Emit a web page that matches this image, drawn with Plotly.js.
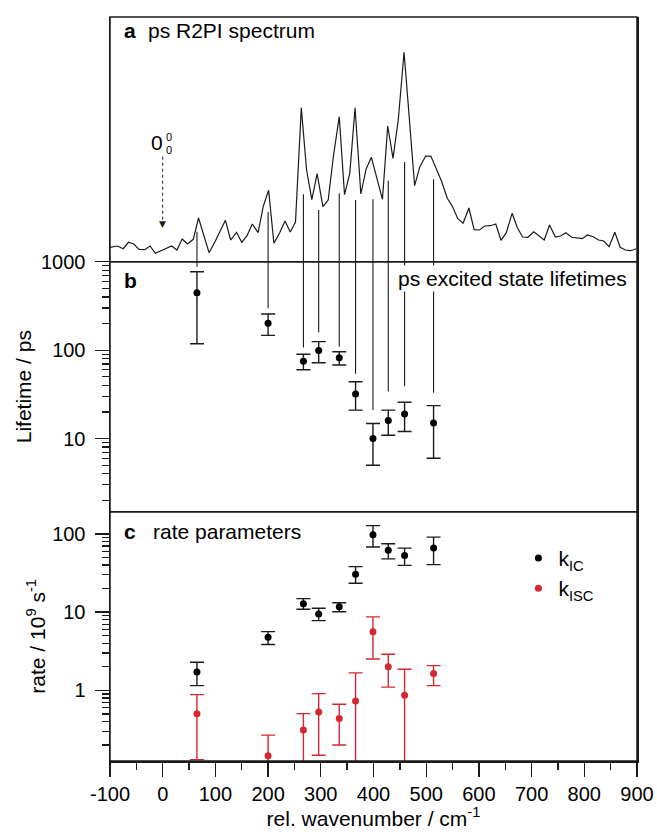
<!DOCTYPE html>
<html><head><meta charset="utf-8">
<script src="https://cdn.plot.ly/plotly-3.0.1.min.js"></script>
<style>html,body{margin:0;padding:0;background:#fff}#plot{width:657px;height:832px}</style>
</head><body><div id="plot"></div>
<script>
// ---------- data ----------
// (a) ps R2PI spectrum, arbitrary intensity units
const specX = [-100,-96,-86,-75,-65,-55,-45,-34,-24,-14,-4,7,17,27,37,47,58,68,78,88,99,109,119,129,140,150,160,170,181,191,201,211,222,232,242,252,263,273,283,293,304,314,324,335,345,355,365,376,386,396,406,417,427,437,447,458,468,478,488,499,509,519,529,540,550,560,570,581,591,601,611,622,632,642,652,663,673,683,693,704,714,724,734,745,755,765,776,786,796,806,817,827,837,847,858,868,878,888,899];
const specI = [14.4,14.7,15.7,13,19.4,17.7,12.4,12,15.7,8.4,10.7,13,15.7,11.7,22.7,17.7,22.4,43.7,26.7,9,19.7,30.7,41.4,21.7,29.4,19.4,26,37.7,29,55.7,71.4,18.4,29,40.7,29.7,39.7,154,91.7,62,88,55,61.7,105.7,145,67,88.4,154,67.7,92.7,104.4,83.7,62.4,135.7,103.4,141.7,209.4,143,76,95,105.7,105.4,93.4,80.7,63.4,55,43,38.4,53.7,32,31.7,35.7,36,37.7,21.4,29,48.4,34,24.7,24.4,30,26,21.7,36.7,24.7,25.7,29,24.4,23.4,23,26.7,25,21.7,20.7,15,29.4,14.4,11.7,11,13];

// band positions (rel. wavenumber / cm-1)
const bandX = [65,200,267,296,335,366,399,428,459,514];
// top of the marker line in panel a (spectrum intensity units)
const bandLineTop = [30,50,67.4,51.7,68.4,61.7,62.4,81,99.7,82.4];
// lower end of the marker line in panel b (ps)
const bandLineEnd = [878,297,107,159,110,54,21,34,39,33];

// (b) excited state lifetimes / ps
const lifetime   = [447,201,75,99,82,32,10,16,19,15];
const lifetimeHi = [771,256,90,125,96,44,14.8,21,25.8,23.6];
const lifetimeLo = [118,147,60,72,68,21,5,10.9,12,6];

// (c) rate parameters / 10^9 s^-1
const kIC    = [1.72,4.78,12.8,9.5,11.7,30.5,98,62,53,66];
const kICHi  = [2.29,5.63,14.9,11.2,13.2,38.2,128,75,66,91];
const kICLo  = [1.15,3.85,10.9,7.8,10.1,23.4,68,48,39.7,40.5];
const kISC   = [0.50,0.146,0.31,0.53,0.435,0.73,5.6,2.0,0.865,1.64];
const kISCHi = [0.88,0.267,0.504,0.908,0.664,1.67,8.7,2.9,1.86,2.07];
const kISCLo = [0.13,0.001,0.001,0.148,0.20,0.001,2.52,1.10,0.001,1.15];

// tick labels
const xTicks = [-100,0,100,200,300,400,500,600,700,800,900];
const xTickText = ['-100','0','100','200','300','400','500','600','700','800','900'];
const lifeTicks = [10,100,1000];
const rateTicks = [1,10,100];

// ---------- styling ----------
const FONT = 'Liberation Sans, Arial, Helvetica, sans-serif';
const INK = '#1a1a1a';
const RED = '#d3282f';
const FS = 21;

function vlines(xs, y0, y1) {
  const x = [], y = [];
  xs.forEach((v, i) => { x.push(v, v, null); y.push(y0[i], y1[i], null); });
  return {x, y};
}
function minorVals(lo, hi) {
  const out = [];
  for (let e = lo; e <= hi; e++) for (let m = 2; m <= 9; m++) out.push(m * Math.pow(10, e));
  return out;
}
const up = (hi, v) => hi.map((h, i) => h - v[i]);
const dn = (lo, v) => lo.map((l, i) => v[i] - l);

const linesA = vlines(bandX, bandX.map(() => 0), bandLineTop);
const linesB = vlines(bandX, bandX.map(() => 1000), bandLineEnd);

const traces = [
  {x: specX, y: specI, xaxis: 'x', yaxis: 'y3', mode: 'lines', line: {color: INK, width: 1.2}, showlegend: false},
  {x: linesA.x, y: linesA.y, xaxis: 'x', yaxis: 'y3', mode: 'lines', line: {color: INK, width: 1.1}, showlegend: false},
  {x: linesB.x, y: linesB.y, xaxis: 'x', yaxis: 'y2', mode: 'lines', line: {color: INK, width: 1.1}, showlegend: false},
  {x: bandX, y: lifetime, xaxis: 'x', yaxis: 'y2', mode: 'markers', showlegend: false,
   marker: {color: '#000', size: 7},
   error_y: {type: 'data', symmetric: false, array: up(lifetimeHi, lifetime), arrayminus: dn(lifetimeLo, lifetime), color: INK, thickness: 1.4, width: 7}},
  {x: bandX, y: kIC, xaxis: 'x', yaxis: 'y', mode: 'markers', name: 'k<sub>IC</sub>',
   marker: {color: '#000', size: 7},
   error_y: {type: 'data', symmetric: false, array: up(kICHi, kIC), arrayminus: dn(kICLo, kIC), color: INK, thickness: 1.4, width: 7}},
  {x: bandX, y: kISC, xaxis: 'x', yaxis: 'y', mode: 'markers', name: 'k<sub>ISC</sub>',
   marker: {color: RED, size: 7},
   error_y: {type: 'data', symmetric: false, array: up(kISCHi, kISC), arrayminus: dn(kISCLo, kISC), color: RED, thickness: 1.4, width: 7}}
];

const axCommon = {showgrid: false, zeroline: false, showline: true, linecolor: INK, linewidth: 1.5,
  tickfont: {family: FONT, size: 20, color: '#000'}, tickcolor: INK, tickwidth: 1.3};

const layout = {
  width: 657, height: 832,
  margin: {l: 110, r: 20, t: 17, b: 71},
  paper_bgcolor: '#fff', plot_bgcolor: '#fff',
  font: {family: FONT, size: FS, color: '#000'},
  showlegend: true,
  legend: {x: 0.775, xanchor: 'left', y: 0.30, yanchor: 'top', bgcolor: 'rgba(0,0,0,0)', borderwidth: 0,
           font: {family: FONT, size: FS, color: '#000'}, itemwidth: 30},
  xaxis: Object.assign({}, axCommon, {
    anchor: 'y', domain: [0, 1], range: [-100, 900], tickmode: 'array', tickvals: xTicks, ticktext: xTickText,
    ticks: 'outside', ticklen: 14, mirror: false,
    minor: {dtick: 50, tick0: -100, ticks: 'outside', ticklen: 7, tickcolor: INK, tickwidth: 1.3, showgrid: false},
    title: {text: 'rel. wavenumber / cm<sup>-1</sup>', font: {family: FONT, size: FS, color: '#000'}, standoff: 6}
  }),
  yaxis: Object.assign({}, axCommon, {
    domain: [0, 0.3351], type: 'log', range: [-0.904, 2.285], mirror: true,
    tickmode: 'array', tickvals: rateTicks, ticktext: rateTicks.map(String),
    ticks: 'outside', ticklen: 14, ticklabelstandoff: 5,
    minor: {tickmode: 'array', tickvals: minorVals(-1, 2), ticks: 'outside', ticklen: 7, tickcolor: INK, tickwidth: 1.3, showgrid: false},
    title: {text: 'rate / 10<sup>9</sup> s<sup>-1</sup>', font: {family: FONT, size: FS, color: '#000'}, standoff: 1}
  }),
  yaxis2: Object.assign({}, axCommon, {
    domain: [0.3351, 0.6711], type: 'log', range: [0.173, 3.0005], anchor: 'x', mirror: true,
    tickmode: 'array', tickvals: lifeTicks, ticktext: lifeTicks.map(String),
    ticks: 'outside', ticklen: 14, ticklabelstandoff: 5,
    minor: {tickmode: 'array', tickvals: minorVals(0, 2), ticks: 'outside', ticklen: 7, tickcolor: INK, tickwidth: 1.3, showgrid: false},
    title: {text: 'Lifetime / ps', font: {family: FONT, size: FS, color: '#000'}, standoff: 3}
  }),
  yaxis3: Object.assign({}, axCommon, {
    domain: [0.6711, 1], range: [0, 244.7], anchor: 'x', mirror: true,
    showticklabels: false, ticks: ''
  }),
  shapes: [
    {type: 'rect', xref: 'x domain', yref: 'y domain', x0: 0, x1: 1, y0: 0, y1: 1, line: {color: INK, width: 1.5}, layer: 'above'},
    {type: 'rect', xref: 'x domain', yref: 'y2 domain', x0: 0, x1: 1, y0: 0, y1: 1, line: {color: INK, width: 1.5}, layer: 'above'},
    {type: 'rect', xref: 'x domain', yref: 'y3 domain', x0: 0, x1: 1, y0: 0, y1: 1, line: {color: INK, width: 1.5}, layer: 'above'},
    // dotted pointer to the origin band
    {type: 'line', xref: 'x', yref: 'y3', x0: 0, x1: 0, y0: 105, y1: 40, line: {color: INK, width: 1, dash: 'dot'}}
  ],
  annotations: [
    {xref: 'x domain', yref: 'y3 domain', x: 0.022, y: 0.943, xanchor: 'left', yanchor: 'middle', showarrow: false, text: '<b>a</b>', font: {family: FONT, size: FS, color: '#000'}},
    {xref: 'x domain', yref: 'y3 domain', x: 0.068, y: 0.943, xanchor: 'left', yanchor: 'middle', showarrow: false, text: 'ps R2PI spectrum', font: {family: FONT, size: FS, color: '#000'}},
    {xref: 'x domain', yref: 'y2 domain', x: 0.022, y: 0.924, xanchor: 'left', yanchor: 'middle', showarrow: false, text: '<b>b</b>', font: {family: FONT, size: FS, color: '#000'}},
    {xref: 'x domain', yref: 'y2 domain', x: 0.542, y: 0.931, xanchor: 'left', yanchor: 'middle', showarrow: false, text: 'ps excited state lifetimes', font: {family: FONT, size: FS, color: '#000'}, bgcolor: '#fff', borderpad: 1},
    {xref: 'x domain', yref: 'y domain', x: 0.022, y: 0.920, xanchor: 'left', yanchor: 'middle', showarrow: false, text: '<b>c</b>', font: {family: FONT, size: FS, color: '#000'}},
    {xref: 'x domain', yref: 'y domain', x: 0.078, y: 0.920, xanchor: 'left', yanchor: 'middle', showarrow: false, text: 'rate parameters', font: {family: FONT, size: FS, color: '#000'}},
    // 0_0^0 label
    {xref: 'x', yref: 'y3', x: 0, y: 119, xanchor: 'right', yanchor: 'middle', xshift: 2, showarrow: false, text: '0', font: {family: FONT, size: FS, color: '#000'}},
    {xref: 'x', yref: 'y3', x: 0, y: 125, xanchor: 'left', yanchor: 'middle', xshift: 1, showarrow: false, text: '0', font: {family: FONT, size: 11, color: '#000'}},
    {xref: 'x', yref: 'y3', x: 0, y: 111.5, xanchor: 'left', yanchor: 'middle', xshift: 1, showarrow: false, text: '0', font: {family: FONT, size: 11, color: '#000'}},
    {xref: 'x', yref: 'y3', x: 0, y: 38, xanchor: 'center', yanchor: 'middle', showarrow: false, text: '▼', font: {family: 'DejaVu Sans', size: 9, color: INK}}
  ]
};

Plotly.newPlot('plot', traces, layout, {staticPlot: true, displayModeBar: false});
</script>
</body></html>
